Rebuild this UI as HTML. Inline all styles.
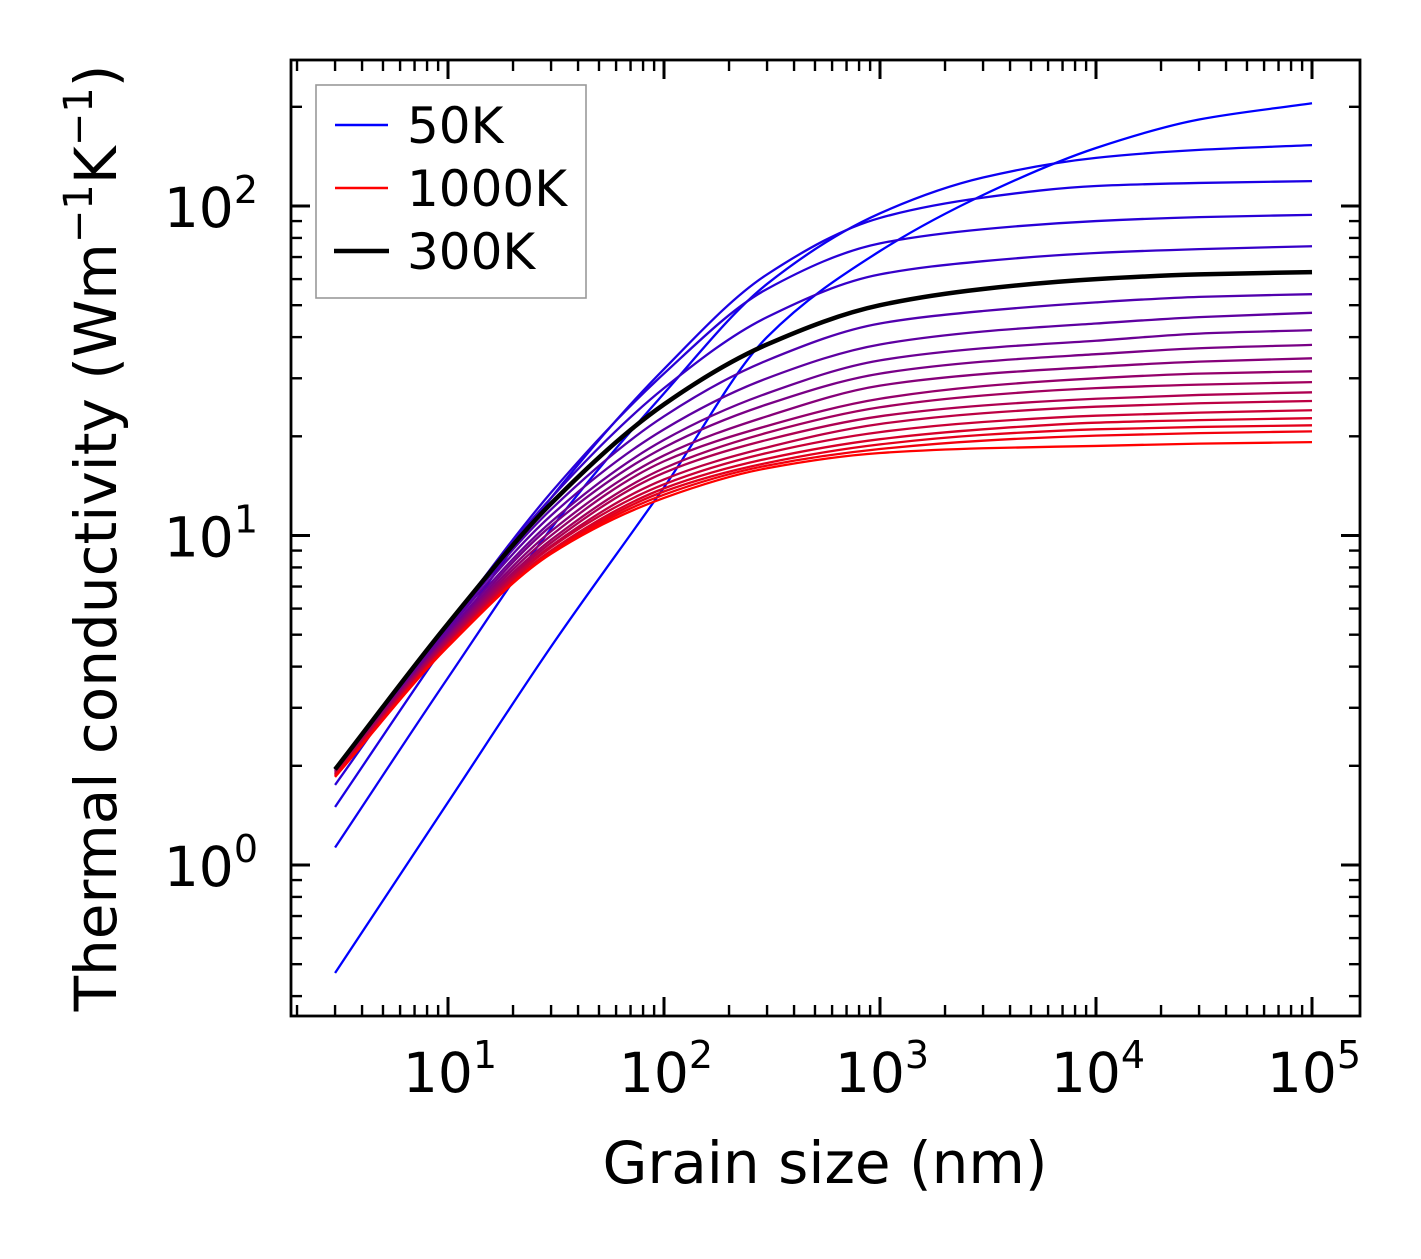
<!DOCTYPE html>
<html><head><meta charset="utf-8"><style>
html,body{margin:0;padding:0;background:#fff;}
svg text{font-family:"DejaVu Sans","Liberation Sans",sans-serif;fill:#000;}
</style></head><body>
<svg id="chart" width="1421" height="1254" viewBox="0 0 1421 1254" xmlns="http://www.w3.org/2000/svg">
<rect x="0" y="0" width="1421" height="1254" fill="#fff"/>
<g id="curves"></g>
<g id="ticks"></g>
<rect x="291" y="60" width="1069" height="956" fill="none" stroke="#000" stroke-width="2.8"/>
<text x="825" y="1183" font-size="58" text-anchor="middle">Grain size (nm)</text>
<text transform="translate(116,538) rotate(-90)" font-size="58" text-anchor="middle">Thermal conductivity (Wm<tspan font-size="40" dy="-24">−1</tspan><tspan dy="24">K</tspan><tspan font-size="40" dy="-24">−1</tspan><tspan dy="24">)</tspan></text>
<g>
<rect x="316" y="85" width="270" height="213" fill="#fff" stroke="#999" stroke-width="1.6"/>
<line x1="335" y1="125" x2="388" y2="125" stroke="#0000ff" stroke-width="2.4"/>
<text x="407" y="143" font-size="50">50K</text>
<line x1="335" y1="188" x2="388" y2="188" stroke="#ff0000" stroke-width="2.4"/>
<text x="407" y="206" font-size="50">1000K</text>
<line x1="334" y1="251" x2="389" y2="251" stroke="#000" stroke-width="4.5"/>
<text x="407" y="269" font-size="50">300K</text>
</g>
</svg>
<script>
const grainSizes=[3,10,30,100,300,1000,3000,10000,30000,100000];
const temps=[50,100,150,200,250,300,350,400,450,500,550,600,650,700,750,800,850,900,950,1000];
const k50=[0.47,1.55,4.6,14,40,73,108,150,183,205];
const k100=[1.13,3.7,10.5,27,58,95,122,140,148,153];
const k150=[1.5,4.8,13,32,62,92,106,115,117.5,119];
const k200=[1.75,5.3,13.5,31,56,77,85,90,92.5,94];
const k250=[1.88,5.4,13,28,46,62,68,72,74,75.5];
const k300=[1.95,5.4,12.5,25,38,50,56,60,62,63];
const k350=[1.95,5.3,12,23,34,44,48,51,53,54];
const k400=[1.95,5.2,11.5,21,30,38,41.6,44,46,47.4];
const k450=[1.95,5.1,11,19.5,27,34,37,39,41,42];
const k500=[1.94,5.0,10.7,18.5,25,31,33.7,35.5,37,37.9];
const k550=[1.93,4.95,10.3,17.5,23,28.5,30.9,32.5,33.7,34.5];
const k600=[1.92,4.9,10,16.8,21.5,26,28.4,30,31,31.5];
const k650=[1.91,4.85,9.7,16,20.5,24.5,26.6,28,28.7,29.2];
const k700=[1.9,4.8,9.5,15.5,19.5,23,24.8,26,26.7,27.2];
const k750=[1.89,4.75,9.3,14.8,18.5,21.8,23.5,24.6,25.2,25.6];
const k800=[1.88,4.7,9.2,14.3,17.8,20.6,22.1,23.1,23.6,24];
const k850=[1.87,4.68,9.0,13.9,17.1,19.6,21.0,22,22.4,22.7];
const k900=[1.86,4.65,8.9,13.6,16.6,18.9,20.2,21,21.35,21.6];
const k950=[1.855,4.62,8.85,13.3,16.3,18.3,19.4,20.1,20.45,20.7];
const k1000=[1.85,4.6,8.8,13,16,17.8,18.4,18.7,19.0,19.2];
const series=[k50,k100,k150,k200,k250,k300,k350,k400,k450,k500,k550,k600,k650,k700,k750,k800,k850,k900,k950,k1000];
const highlight=k300;
const xMajorTicks=[1,2,3,4,5];
const yMajorTicks=[0,1,2];

const X0=291,X1=1360,Y0=60,Y1=1016;
const xLogMin=0.2731,xLogMax=5.2222,yLogMin=-0.4583,yLogMax=2.4431;
function xs(v){return X0+(Math.log10(v)-xLogMin)/(xLogMax-xLogMin)*(X1-X0);}
function ys(v){return Y1-(Math.log10(v)-yLogMin)/(yLogMax-yLogMin)*(Y1-Y0);}
const NS="http://www.w3.org/2000/svg";
function pathFor(vals){
  const p=grainSizes.map((g,i)=>[xs(g),ys(vals[i])]);
  const n=p.length,dl=[],m=[];
  for(let i=0;i<n-1;i++)dl.push((p[i+1][1]-p[i][1])/(p[i+1][0]-p[i][0]));
  m[0]=dl[0];m[n-1]=dl[n-2];
  for(let i=1;i<n-1;i++){
    if(dl[i-1]*dl[i]<=0)m[i]=0;
    else{const h0=p[i][0]-p[i-1][0],h1=p[i+1][0]-p[i][0];
      const w1=2*h1+h0,w2=h1+2*h0;m[i]=(w1+w2)/(w1/dl[i-1]+w2/dl[i]);}
  }
  let d="M"+p[0][0].toFixed(2)+","+p[0][1].toFixed(2);
  for(let i=0;i<n-1;i++){
    const h=(p[i+1][0]-p[i][0])/3;
    d+=" C"+(p[i][0]+h).toFixed(2)+","+(p[i][1]+m[i]*h).toFixed(2)+" "+(p[i+1][0]-h).toFixed(2)+","+(p[i+1][1]-m[i+1]*h).toFixed(2)+" "+p[i+1][0].toFixed(2)+","+p[i+1][1].toFixed(2);
  }
  return d;
}
const cg=document.getElementById("curves");
series.forEach((vals,i)=>{
  const t=i/(series.length-1);
  const el=document.createElementNS(NS,"path");
  el.setAttribute("d",pathFor(vals));
  el.setAttribute("fill","none");
  el.setAttribute("stroke","rgb("+Math.round(255*t)+",0,"+Math.round(255*(1-t))+")");
  el.setAttribute("stroke-width","2.3");
  
  
  cg.appendChild(el);
});
const hl=document.createElementNS(NS,"path");
hl.setAttribute("d",pathFor(highlight));
hl.setAttribute("fill","none");
hl.setAttribute("stroke","#000");
hl.setAttribute("stroke-width","4.5");


cg.appendChild(hl);

const tg=document.getElementById("ticks");
function line(x1,y1,x2,y2,w,name){
  const l=document.createElementNS(NS,"line");
  l.setAttribute("x1",x1);l.setAttribute("y1",y1);l.setAttribute("x2",x2);l.setAttribute("y2",y2);
  l.setAttribute("stroke","#000");l.setAttribute("stroke-width",w);
  
  
  tg.appendChild(l);
}
function label(x,y,exp,anchor,name){
  const t=document.createElementNS(NS,"text");
  t.setAttribute("x",x);t.setAttribute("y",y);t.setAttribute("font-size","55");t.setAttribute("text-anchor",anchor);
  t.innerHTML='10<tspan font-size="38" dy="-24">'+exp+'</tspan>';
  
  
  tg.appendChild(t);
}
for(let d=0;d<=5;d++){
  for(let mm=1;mm<10;mm++){
    const v=mm*Math.pow(10,d),lv=Math.log10(v);
    if(lv<xLogMin||lv>xLogMax)continue;
    const x=xs(v),L=mm===1?19:11,w=mm===1?3:2.4;
    line(x,Y1,x,Y1-L,w,mm===1?"x-major-tick":"x-minor-tick");
    line(x,Y0,x,Y0+L,w,mm===1?"x-top-tick":"x-top-minor-tick");
  }
}
for(let d=-1;d<=2;d++){
  for(let mm=1;mm<10;mm++){
    const v=mm*Math.pow(10,d),lv=Math.log10(v);
    if(lv<yLogMin||lv>yLogMax)continue;
    const y=ys(v),L=mm===1?19:11,w=mm===1?3:2.4;
    line(X0,y,X0+L,y,w,mm===1?"y-major-tick":"y-minor-tick");
    line(X1,y,X1-L,y,w,mm===1?"y-right-tick":"y-right-minor-tick");
  }
}
xMajorTicks.forEach(e=>label(xs(Math.pow(10,e))+2,1092,e,"middle","x-tick-label-"+e));
yMajorTicks.forEach(e=>label(258,ys(Math.pow(10,e))+21,e,"end","y-tick-label-"+e));
</script>
</body></html>
